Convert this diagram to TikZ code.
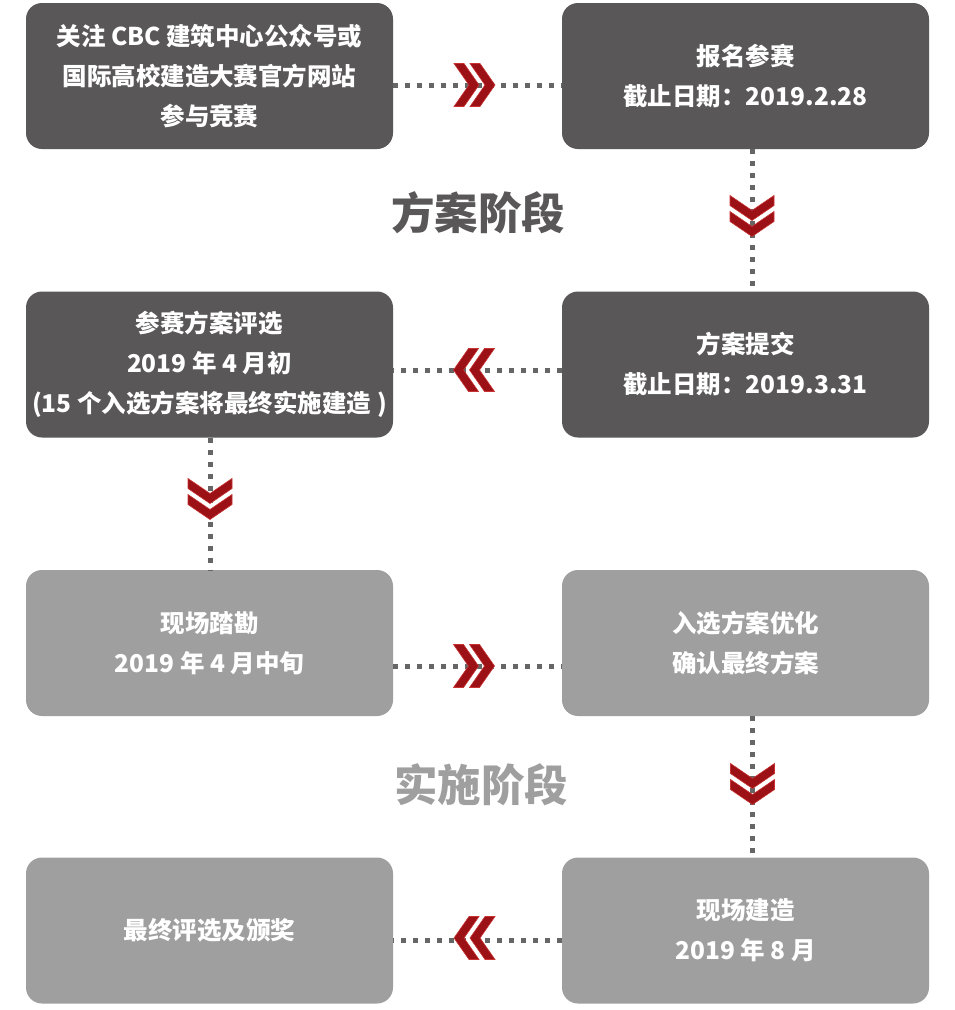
\documentclass[tikz,border=0pt]{standalone}
\usepackage{fontspec}
\setmainfont{Noto Sans CJK SC}
\definecolor{darkbox}{HTML}{595757}
\definecolor{lightbox}{HTML}{A09F9F}
\definecolor{dotc}{HTML}{666666}
\definecolor{chevc}{RGB}{155,17,22}
\definecolor{chevedge}{RGB}{200,50,50}
\tikzset{
  box/.style={rectangle, rounded corners=16pt, minimum width=367pt, minimum height=146pt,
    inner sep=0pt, text=white, align=center, font=\fontsize{24.5}{40}\selectfont\bfseries},
  dkbox/.style={box, fill=darkbox},
  ltbox/.style={box, fill=lightbox},
  dotline/.style={draw=dotc, line width=5pt, dash pattern=on 5pt off 7pt},
  chevfill/.style={fill=chevc, draw=chevedge, line width=0.6pt, line join=miter},
  stagetitle/.style={font=\fontsize{43.5}{48}\selectfont\bfseries},
  chevR/.pic={\foreach \o in {-20.5,-4.5} \path[chevfill] (\o,-21.5) -- ++(10,0) -- ++(15,21.5) -- ++(-15,21.5) -- ++(-10,0) -- ++(15,-21.5) -- cycle;},
  chevL/.pic={\foreach \o in {20.5,4.5} \path[chevfill] (\o,-21.5) -- ++(-10,0) -- ++(-15,21.5) -- ++(15,21.5) -- ++(10,0) -- ++(-15,-21.5) -- cycle;},
  chevD/.pic={\foreach \o in {-20.5,-4.5} \path[chevfill] (-22,\o) -- ++(0,10) -- ++(22,15) -- ++(22,-15) -- ++(0,-10) -- ++(-22,15) -- cycle;}
}
\begin{document}
\begin{tikzpicture}[x=1pt,y=-1pt]
\useasboundingbox[fill=white] (0,0) rectangle (955,1010);
% boxes
\node[dkbox] (b1) at (209.5,76) {关注 CBC 建筑中心公众号或\\国际高校建造大赛官方网站\\参与竞赛};
\node[dkbox] (b2) at (745.5,76) {报名参赛\\截止日期：2019.2.28};
\node[dkbox] (b3) at (745.5,364.5) {方案提交\\截止日期：2019.3.31};
\node[dkbox] (b4) at (209.5,364.5) {参赛方案评选\\2019 年 4 月初\\(15 个入选方案将最终实施建造 )};
\node[ltbox] (b5) at (209.5,643) {现场踏勘\\2019 年 4 月中旬};
\node[ltbox] (b6) at (745.5,643) {入选方案优化\\确认最终方案};
\node[ltbox] (b7) at (745.5,930.5) {现场建造\\2019 年 8 月};
\node[ltbox] (b8) at (209.5,930.5) {最终评选及颁奖};
% stage titles
\node[stagetitle, text=darkbox] (t1) at (478,213) {方案阶段};
\node[stagetitle, text=lightbox] (t2) at (481,785) {实施阶段};
% connectors
\draw[dotline] ([yshift=-9pt]b1.east) -- ([yshift=-9pt]b2.west);
\draw[dotline] ([xshift=6.5pt]b2.south) -- ([xshift=6.5pt]b3.north);
\draw[dotline] ([yshift=-5.5pt]b3.west) -- ([yshift=-5.5pt]b4.east);
\draw[dotline] ([xshift=0.5pt]b4.south) -- ([xshift=0.5pt]b5.north);
\draw[dotline] ([yshift=-23pt]b5.east) -- ([yshift=-23pt]b6.west);
\draw[dotline] ([xshift=7pt]b6.south) -- ([xshift=7pt]b7.north);
\draw[dotline] ([yshift=-9.5pt]b7.west) -- ([yshift=-9.5pt]b8.east);
% chevrons
\pic at (474.5,85) {chevR};
\pic at (752,216) {chevD};
\pic at (474,370) {chevL};
\pic at (210,499) {chevD};
\pic at (474,666) {chevR};
\pic at (752.5,784) {chevD};
\pic at (474.5,938) {chevL};
\end{tikzpicture}
\end{document}
